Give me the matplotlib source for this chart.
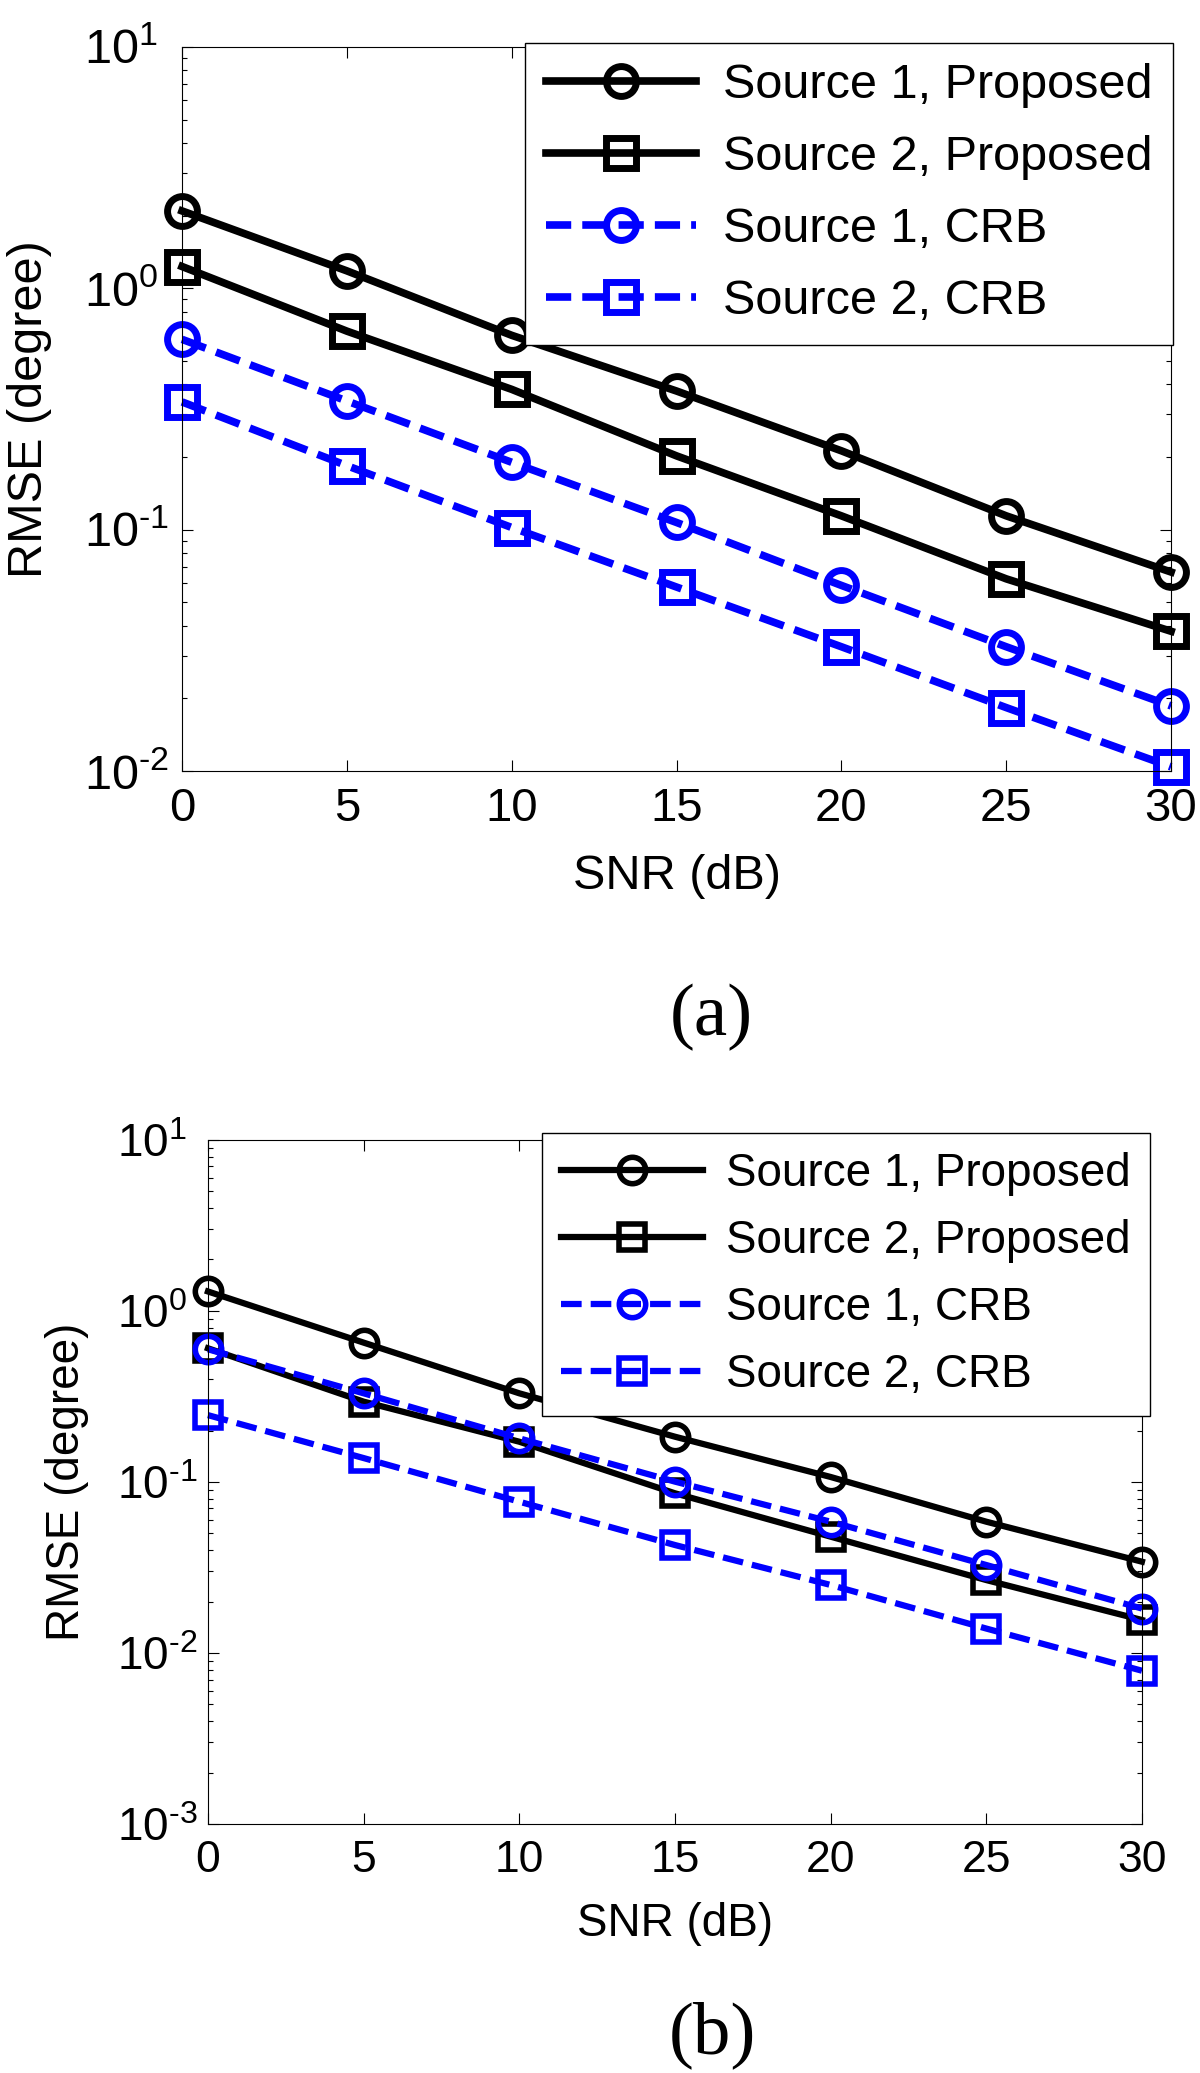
import math
import matplotlib.pyplot as plt
from matplotlib.ticker import LogLocator, NullFormatter, FuncFormatter

plt.rcParams['font.family'] = ['Liberation Sans', 'DejaVu Sans']
plt.rcParams['mathtext.fontset'] = 'custom'
plt.rcParams['mathtext.rm'] = 'Liberation Sans'
plt.rcParams['mathtext.it'] = 'Liberation Sans:italic'
plt.rcParams['mathtext.bf'] = 'Liberation Sans:bold'
plt.rcParams['axes.unicode_minus'] = False

# Datos
snr = [0, 5, 10, 15, 20, 25, 30]
etiquetas = ["Source 1, Proposed", "Source 2, Proposed", "Source 1, CRB", "Source 2, CRB"]

# panel (a)
a_fuente1_prop = [2.09, 1.18, 0.638, 0.375, 0.212, 0.114, 0.0667]
a_fuente2_prop = [1.23, 0.664, 0.381, 0.202, 0.114, 0.0625, 0.0379]
a_fuente1_crb = [0.614, 0.341, 0.190, 0.107, 0.0587, 0.0327, 0.0186]
a_fuente2_crb = [0.338, 0.184, 0.102, 0.0578, 0.0327, 0.0183, 0.0104]

# panel (b)
b_fuente1_prop = [1.30, 0.653, 0.330, 0.184, 0.107, 0.0586, 0.0342]
b_fuente2_prop = [0.605, 0.295, 0.172, 0.0859, 0.0479, 0.0267, 0.0156]
b_fuente1_crb = [0.597, 0.330, 0.180, 0.1005, 0.0586, 0.0327, 0.0182]
b_fuente2_crb = [0.246, 0.138, 0.0767, 0.0428, 0.0250, 0.0139, 0.00788]


# etiquetas tipo MATLAB: 10 con exponente y guion corto
def etiqueta_log(v, pos):
    exp = str(int(round(math.log10(v)))).replace('-', r'\text{-}')
    return r'$\mathdefault{10^{%s}}$' % exp


def graficar_panel(fig, rect, series, ymin, e):
    ax = fig.add_axes(rect)
    guiones = (0, (3.3, 1.45))
    estilos = [('black', 'o', '-'), ('black', 's', '-'),
               ('blue', 'o', guiones), ('blue', 's', guiones)]
    for valores, etiqueta, (color, marcador, linea) in zip(series, etiquetas, estilos):
        ax.plot(snr, valores, color=color, marker=marcador, linestyle=linea,
                linewidth=e['lw'], markersize=e['ms'], markeredgewidth=e['mew'],
                markerfacecolor='none', markeredgecolor=color, label=etiqueta,
                clip_on=False)

    ax.set_yscale('log')
    ax.set_ylim(ymin, 10)
    ax.set_xlim(0, 30)
    ax.set_xticks(snr)
    ax.yaxis.set_major_locator(LogLocator(base=10, numticks=10))
    ax.yaxis.set_major_formatter(FuncFormatter(etiqueta_log))
    ax.yaxis.set_minor_locator(LogLocator(base=10, subs=range(2, 10), numticks=20))
    ax.yaxis.set_minor_formatter(NullFormatter())

    ax.tick_params(which='both', direction='in', top=True, right=True, width=0.8)
    ax.tick_params(which='major', length=8)
    ax.tick_params(which='minor', length=3.6)
    ax.tick_params(axis='x', labelsize=e['xtick'], pad=e['xpad'])
    ax.tick_params(axis='y', labelsize=e['ytick'], pad=e['ypad'])
    # la base "10" queda alineada a la izquierda, como en MATLAB
    for t in ax.get_yticklabels():
        t.set_horizontalalignment('left')
    for s in ax.spines.values():
        s.set_linewidth(0.8)

    ax.set_xlabel("SNR (dB)", fontsize=e['label'])
    ax.set_ylabel("RMSE (degree)", fontsize=e['label'])
    ax.xaxis.set_label_coords(0.5, e['xlab_y'])
    ax.xaxis.label.set_va('center')
    ax.yaxis.set_label_coords(e['ylab_x'], 0.5)
    ax.yaxis.label.set_va('center')

    leg = ax.legend(loc='upper right', bbox_to_anchor=e['leg_pos'],
                    bbox_transform=fig.transFigure, borderaxespad=0,
                    fontsize=e['leg_fs'], handlelength=3.1, handletextpad=e['htp'],
                    borderpad=e['bp'], labelspacing=e['ls'], fancybox=False,
                    framealpha=1, edgecolor='black')
    leg.get_frame().set_linewidth(1.0)
    return ax


fig = plt.figure(figsize=(12, 20.73), dpi=100)

estilo_a = dict(lw=5.5, ms=21.5, mew=5, xtick=34, ytick=35, xpad=11.7, ypad=70.5,
                label=35, xlab_y=-0.1464, ylab_x=-0.1547,
                leg_pos=(0.9775, 0.9793), leg_fs=35, htp=0.55, bp=0.42, ls=0.556)
estilo_b = dict(lw=4.5, ms=19, mew=4, xtick=32, ytick=33, xpad=11.5, ypad=65.5,
                label=33, xlab_y=-0.1462, ylab_x=-0.151,
                leg_pos=(0.9583, 0.4535), leg_fs=33, htp=0.5, bp=0.415, ls=0.50)

graficar_panel(fig, [0.1517, 0.6281, 0.8242, 0.3493],
               [a_fuente1_prop, a_fuente2_prop, a_fuente1_crb, a_fuente2_crb],
               1e-2, estilo_a)
graficar_panel(fig, [0.1733, 0.1201, 0.7783, 0.3300],
               [b_fuente1_prop, b_fuente2_prop, b_fuente1_crb, b_fuente2_crb],
               1e-3, estilo_b)

fig.text(0.5925, 0.509, "(a)", family='Liberation Serif', fontsize=54,
         ha='center', va='center')
fig.text(0.5933, 0.0183, "(b)", family='Liberation Serif', fontsize=54,
         ha='center', va='center')

fig.savefig("out.png", dpi=100)
